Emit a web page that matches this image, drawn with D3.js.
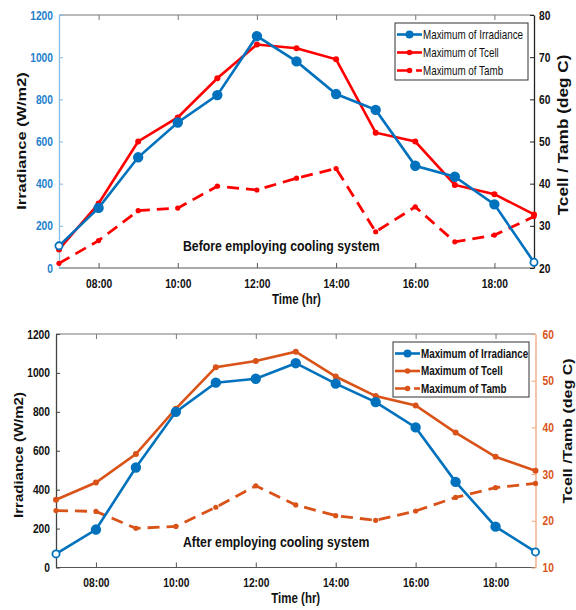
<!DOCTYPE html>
<html>
<head>
<meta charset="utf-8">
<script src="https://cdn.jsdelivr.net/npm/d3@7"></script>
<style>
  body { margin: 0; background: #fff; }
  svg { display: block; }
  text { font-family: "Liberation Sans", Arial, sans-serif; font-weight: bold; }
</style>
</head>
<body>
<div id="chart"></div>
<script>
// hours of the day (x)
var hours = [7, 8, 9, 10, 11, 12, 13, 14, 15, 16, 17, 18, 19];
var hourTicks = [8, 10, 12, 14, 16, 18];
var hourLabels = ["08:00", "10:00", "12:00", "14:00", "16:00", "18:00"];

// before cooling
var irrBefore = [105, 285, 525, 690, 820, 1100, 980, 825, 750, 485, 433, 302, 27];
var tcellBefore = [24.4, 35.3, 50, 55.7, 65, 73, 72.1, 69.5, 52.1, 50, 39.7, 37.5, 32.7];
var tambBefore = [21.1, 26.5, 33.6, 34.2, 39.4, 38.5, 41.3, 43.6, 28.6, 34.5, 26.2, 27.8, 32.2];

// after cooling
var irrAfter = [70, 195, 514, 800, 950, 970, 1050, 945, 850, 720, 440, 210, 80];
var tcellAfter = [24.5, 28.2, 34.3, 44, 52.9, 54.2, 56.2, 50.9, 46.7, 44.7, 38.9, 33.7, 30.7];
var tambAfter = [22.2, 22, 18.4, 18.8, 22.9, 27.5, 23.4, 21.1, 20.1, 22.1, 25, 27.1, 28];

var leftTicks = [0, 200, 400, 600, 800, 1000, 1200];
var rightTicksBefore = [20, 30, 40, 50, 60, 70, 80];
var rightTicksAfter = [10, 20, 30, 40, 50, 60];

var legendNames = ["Maximum of Irradiance", "Maximum of Tcell", "Maximum of Tamb"];

var narrow = 0.82; // the original figure is squeezed sideways

var svg = d3.select("#chart").append("svg")
    .attr("width", 576)
    .attr("height", 610);

// squeeze text horizontally around its own x
function squeeze(sel) {
    sel.each(function () {
        var t = d3.select(this);
        var tx = +t.attr("x") || 0;
        t.attr("transform", "translate(" + tx + ",0) scale(" + narrow + ",1) translate(" + (-tx) + ",0)");
    });
}

function drawPanel(p) {
    var g = svg.append("g");

    var x = d3.scaleLinear().domain([7, 19]).range([p.left, p.right]);
    var yL = d3.scaleLinear().domain([0, 1200]).range([p.bottom, p.top]);
    var yR = d3.scaleLinear().domain(p.rightDomain).range([p.bottom, p.top]);

    // frame
    g.append("line").attr("x1", p.left).attr("x2", p.right).attr("y1", p.top).attr("y2", p.top)
        .attr("stroke", "#777").attr("stroke-width", 1);
    g.append("line").attr("x1", p.left).attr("x2", p.right).attr("y1", p.bottom).attr("y2", p.bottom)
        .attr("stroke", "#555").attr("stroke-width", 1);

    // x axis bottom + top (inward ticks)
    var xb = g.append("g").attr("transform", "translate(0," + p.bottom + ")")
        .call(d3.axisBottom(x).tickValues(hourTicks).tickSizeInner(-5).tickSizeOuter(0)
            .tickPadding(11).tickFormat(function (d, i) { return hourLabels[i]; }));
    xb.select(".domain").remove();
    xb.selectAll("line").attr("stroke", "#555");
    xb.selectAll("text").attr("fill", "#111").style("font-size", "12.5px").call(squeeze);

    var xt = g.append("g").attr("transform", "translate(0," + p.top + ")")
        .call(d3.axisTop(x).tickValues(hourTicks).tickSizeInner(-5).tickSizeOuter(0).tickFormat(""));
    xt.select(".domain").remove();
    xt.selectAll("line").attr("stroke", "#777");

    // left axis
    var al = g.append("g").attr("transform", "translate(" + p.left + ",0)")
        .call(d3.axisLeft(yL).tickValues(leftTicks).tickSizeInner(-4).tickSizeOuter(0)
            .tickPadding(6).tickFormat(d3.format("d")));
    al.select(".domain").attr("stroke", p.leftLine).attr("stroke-width", 1.3);
    al.selectAll("line").attr("stroke", p.leftLine);
    al.selectAll("text").attr("fill", p.leftText).style("font-size", "12.5px").call(squeeze);

    // right axis
    var ar = g.append("g").attr("transform", "translate(" + p.right + ",0)")
        .call(d3.axisRight(yR).tickValues(p.rightTicks).tickSizeInner(-4).tickSizeOuter(0)
            .tickPadding(p.rightPad).tickFormat(d3.format("d")));
    ar.select(".domain").attr("stroke", p.rightLine).attr("stroke-width", 1.3);
    ar.selectAll("line").attr("stroke", p.rightLine);
    ar.selectAll("text").attr("fill", p.rightText).style("font-size", "12.5px").call(squeeze);

    // axis titles
    g.append("text")
        .attr("transform", "translate(" + p.leftTitleX + "," + p.leftTitleY + ") scale(0.8,1) rotate(-90)")
        .attr("text-anchor", "middle").attr("dy", "0.35em")
        .style("font-size", p.leftTitleSize + "px").attr("fill", "#111")
        .text("Irradiance (W/m2)");
    g.append("text")
        .attr("transform", "translate(" + p.rightTitleX + "," + p.rightTitleY + ") scale(0.8,1) rotate(-90)")
        .attr("text-anchor", "middle").attr("dy", "0.35em")
        .style("font-size", p.rightTitleSize + "px").attr("fill", "#111")
        .text(p.rightTitle);
    g.append("text")
        .attr("x", (p.left + p.right) / 2).attr("y", p.bottom + 36)
        .attr("text-anchor", "middle").style("font-size", "14px").attr("fill", "#111")
        .text("Time (hr)").call(squeeze);

    // annotation
    g.append("text")
        .attr("x", 183).attr("y", yL(p.noteAt))
        .style("font-size", "15px").attr("fill", "#111")
        .text(p.note).call(squeeze);

    var lineL = d3.line().x(function (d, i) { return x(hours[i]); }).y(function (d) { return yL(d); });
    var lineR = d3.line().x(function (d, i) { return x(hours[i]); }).y(function (d) { return yR(d); });

    // Tamb (dashed)
    g.append("path").datum(p.tamb).attr("d", lineR)
        .attr("fill", "none").attr("stroke", p.tempColor).attr("stroke-width", 2.8)
        .attr("stroke-dasharray", "12,7");
    g.selectAll(".tamb").data(p.tamb).enter().append("circle")
        .attr("cx", function (d, i) { return x(hours[i]); }).attr("cy", function (d) { return yR(d); })
        .attr("r", 2.6).attr("fill", p.tempColor);

    // Tcell
    g.append("path").datum(p.tcell).attr("d", lineR)
        .attr("fill", "none").attr("stroke", p.tempColor).attr("stroke-width", 2.6);
    g.selectAll(".tcell").data(p.tcell).enter().append("circle")
        .attr("cx", function (d, i) { return x(hours[i]); }).attr("cy", function (d) { return yR(d); })
        .attr("r", 3).attr("fill", p.tempColor);

    // Irradiance
    g.append("path").datum(p.irr).attr("d", lineL)
        .attr("fill", "none").attr("stroke", p.irrColor).attr("stroke-width", 2.6);
    g.selectAll(".irr").data(p.irr).enter().append("circle")
        .attr("cx", function (d, i) { return x(hours[i]); }).attr("cy", function (d) { return yL(d); })
        .attr("r", function (d, i) { return (i === 0 || i === hours.length - 1) ? 3.6 : 4.3; })
        .attr("fill", function (d, i) { return (i === 0 || i === hours.length - 1) ? "#fff" : p.irrColor; })
        .attr("stroke", p.irrColor).attr("stroke-width", 1.8);

    // legend
    var lg = g.append("g");
    lg.append("rect")
        .attr("x", p.legend[0]).attr("y", p.legend[1])
        .attr("width", p.legend[2]).attr("height", p.legend[3])
        .attr("fill", "#fff").attr("stroke", "#333").attr("stroke-width", 1);
    var colors = [p.irrColor, p.tempColor, p.tempColor];
    legendNames.forEach(function (name, i) {
        var ly = p.legend[1] + 11.5 + i * p.legendStep;
        var lx = p.legend[0] + 2;
        lg.append("line").attr("x1", lx).attr("x2", lx + 25).attr("y1", ly).attr("y2", ly)
            .attr("stroke", colors[i]).attr("stroke-width", 2.6)
            .attr("stroke-dasharray", i === 2 ? "15,4,6" : null);
        lg.append("circle").attr("cx", lx + 12.5).attr("cy", ly)
            .attr("r", i === 0 ? 4 : 2.8).attr("fill", colors[i]);
        lg.append("text").attr("x", lx + 26).attr("y", ly).attr("dy", "0.35em")
            .style("font-size", "12px").style("font-weight", p.legendWeight)
            .attr("fill", "#111").text(name).call(squeeze);
    });
}

drawPanel({
    left: 59, right: 534, top: 15, bottom: 268,
    rightDomain: [20, 80], rightTicks: rightTicksBefore, rightPad: 5,
    irr: irrBefore, tcell: tcellBefore, tamb: tambBefore,
    irrColor: "#0072BD", tempColor: "#FF0000",
    leftLine: "#86bde6", leftText: "#1f7fcc",
    rightLine: "#222", rightText: "#111",
    leftTitleX: 21, leftTitleY: 141, leftTitleSize: 16.4,
    rightTitleX: 563, rightTitleY: 135, rightTitleSize: 17.2,
    rightTitle: "Tcell / Tamb (deg C)",
    note: "Before employing cooling system", noteAt: 80,
    legend: [395, 23, 133, 57], legendStep: 18, legendWeight: "normal"
});

drawPanel({
    left: 56, right: 535.5, top: 334, bottom: 567.5,
    rightDomain: [10, 60], rightTicks: rightTicksAfter, rightPad: 7,
    irr: irrAfter, tcell: tcellAfter, tamb: tambAfter,
    irrColor: "#0072BD", tempColor: "#D95319",
    leftLine: "#444", leftText: "#111",
    rightLine: "#f2a47c", rightText: "#D95319",
    leftTitleX: 19, leftTitleY: 455, leftTitleSize: 15,
    rightTitleX: 568, rightTitleY: 431, rightTitleSize: 16,
    rightTitle: "Tcell /Tamb (deg C)",
    note: "After employing cooling system", noteAt: 105,
    legend: [393, 342, 136, 55], legendStep: 17.5, legendWeight: "bold"
});
</script>
</body>
</html>
